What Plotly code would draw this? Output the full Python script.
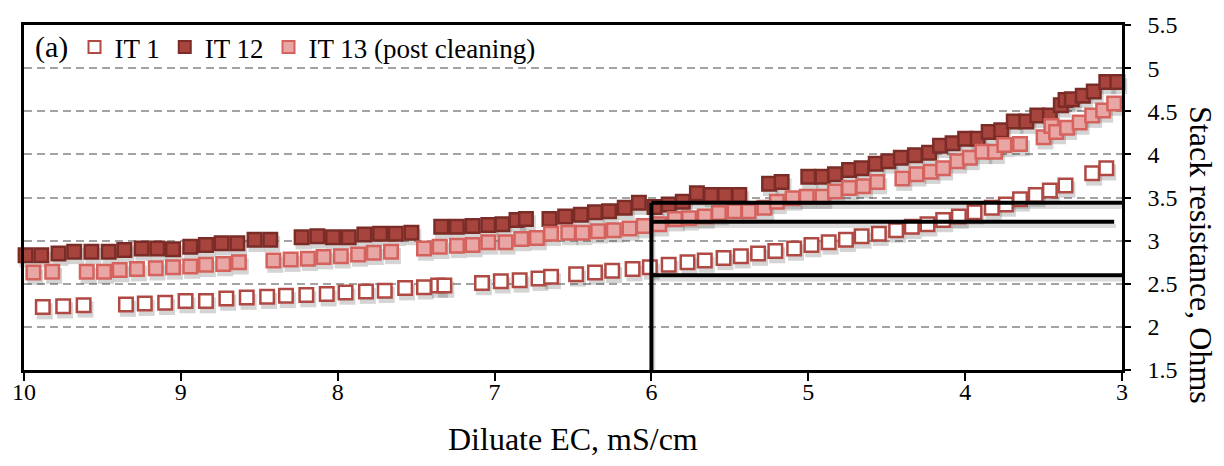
import plotly.graph_objects as go

# ---- data ----
it1_ec = [9.88, 9.75, 9.62, 9.35, 9.23, 9.10, 8.97, 8.84, 8.71, 8.58,
          8.45, 8.33, 8.20, 8.07, 7.95, 7.82, 7.70, 7.57, 7.45, 7.36,
          7.32, 7.08, 6.96, 6.84, 6.72, 6.64, 6.48, 6.36, 6.25, 6.12,
          6.01, 5.89, 5.77, 5.66, 5.54, 5.43, 5.32, 5.21, 5.09, 4.98,
          4.87, 4.76, 4.66, 4.55, 4.44, 4.34, 4.24, 4.14, 4.04, 3.94,
          3.83, 3.74, 3.65, 3.55, 3.46, 3.36, 3.19, 3.10]
it1_res = [2.23, 2.24, 2.25, 2.26, 2.27, 2.28, 2.30, 2.30, 2.33, 2.34,
           2.35, 2.36, 2.37, 2.38, 2.40, 2.41, 2.42, 2.45, 2.46, 2.48,
           2.48, 2.51, 2.53, 2.54, 2.56, 2.58, 2.61, 2.63, 2.65, 2.67,
           2.69, 2.72, 2.75, 2.77, 2.80, 2.82, 2.85, 2.88, 2.91, 2.95,
           2.98, 3.01, 3.05, 3.08, 3.12, 3.16, 3.19, 3.24, 3.28, 3.33,
           3.38, 3.42, 3.48, 3.53, 3.58, 3.64, 3.78, 3.84]

it12_ec = [9.99, 9.89, 9.78, 9.68, 9.57, 9.46, 9.36, 9.25, 9.15, 9.05,
           8.94, 8.84, 8.74, 8.64, 8.53, 8.43, 8.23, 8.13, 8.03,
           7.93, 7.83, 7.73, 7.63, 7.53, 7.34, 7.24, 7.14, 7.04,
           6.95, 6.86, 6.80, 6.65, 6.55, 6.45, 6.36, 6.27, 6.17, 6.08,
           5.98, 5.89, 5.80, 5.71, 5.62, 5.53, 5.44, 5.25, 5.17, 5.00,
           4.91, 4.83, 4.74, 4.66, 4.57, 4.49, 4.41, 4.32, 4.23, 4.16,
           4.08, 4.00, 3.92, 3.85, 3.77, 3.69, 3.61, 3.54, 3.46, 3.39,
           3.36, 3.32, 3.25, 3.18, 3.10, 3.03]
it12_res = [2.83, 2.83, 2.85, 2.87, 2.87, 2.87, 2.89, 2.91, 2.91, 2.90,
            2.93, 2.95, 2.97, 2.97, 3.01, 3.01, 3.04, 3.05, 3.04,
            3.04, 3.07, 3.08, 3.08, 3.09, 3.16, 3.16, 3.17, 3.18,
            3.19, 3.24, 3.25, 3.25, 3.28, 3.30, 3.33, 3.34, 3.38, 3.44,
            3.39, 3.42, 3.45, 3.55, 3.53, 3.53, 3.53, 3.66, 3.68, 3.74,
            3.74, 3.77, 3.82, 3.84, 3.89, 3.92, 3.96, 3.99, 4.02, 4.10,
            4.13, 4.18, 4.18, 4.26, 4.28, 4.38, 4.38, 4.45, 4.45, 4.57,
            4.63, 4.64, 4.68, 4.73, 4.84, 4.84]

it13_ec = [9.94, 9.82, 9.60, 9.49, 9.39, 9.28, 9.16, 9.05, 8.94, 8.84,
           8.73, 8.63, 8.41, 8.30, 8.19, 8.09, 7.98, 7.87, 7.77, 7.66,
           7.45, 7.35, 7.24, 7.14, 7.04, 6.93, 6.83, 6.73, 6.64, 6.53,
           6.44, 6.34, 6.24, 6.14, 6.05, 5.95, 5.85, 5.76, 5.66, 5.57,
           5.47, 5.38, 5.28, 5.20, 5.10, 5.01, 4.91, 4.83, 4.74, 4.65,
           4.56, 4.40, 4.31, 4.22, 4.14, 4.05, 3.97, 3.89, 3.81, 3.75,
           3.65, 3.50, 3.45, 3.42, 3.35, 3.27, 3.19, 3.12, 3.05]
it13_res = [2.63, 2.64, 2.64, 2.64, 2.66, 2.67, 2.68, 2.69, 2.70, 2.72,
            2.73, 2.75, 2.77, 2.78, 2.79, 2.81, 2.82, 2.84, 2.86, 2.87,
            2.91, 2.93, 2.94, 2.95, 2.98, 2.98, 3.02, 3.03, 3.08, 3.09,
            3.09, 3.11, 3.12, 3.14, 3.17, 3.19, 3.25, 3.26, 3.28, 3.32,
            3.34, 3.34, 3.38, 3.45, 3.49, 3.51, 3.51, 3.57, 3.61, 3.63,
            3.68, 3.72, 3.77, 3.80, 3.84, 3.92, 3.96, 4.03, 4.03, 4.11,
            4.12, 4.20, 4.33, 4.26, 4.31, 4.37, 4.45, 4.51, 4.59]

series_names = ["IT 1", "IT 12", "IT 13 (post cleaning)"]

# reference guide lines: EC threshold and resistance levels
guide_ec = 6.0
guide_levels = [3.44, 3.22, 2.60]
guide_ends = [3.0, 3.05, 3.0]

x_ticks = [10, 9, 8, 7, 6, 5, 4, 3]
x_range = [10, 3]
y_range = [1.5, 5.5]

FONT = "Liberation Serif"

# style
fills = ["white", "#A8443E", "#E8A6A4"]
edges = ["#B04843", "#7B2C27", "#D5625D"]
all_ec = [it1_ec, it12_ec, it13_ec]
all_res = [it1_res, it12_res, it13_res]

# drop-shadow offset, applied as an axis-range shift of a hidden overlay axis
shadow_dx = 0.012
shadow_dy = 0.05

fig = go.Figure()

# invisible trace to anchor the visible frame axes
fig.add_trace(go.Scatter(x=[x_range[0]], y=[y_range[0]], mode="markers",
                         marker=dict(opacity=0), showlegend=False,
                         hoverinfo="skip"))

# soft drop shadows (x2/y2)
for ec, res in zip(all_ec, all_res):
    fig.add_trace(go.Scatter(
        x=ec, y=res, mode="markers", xaxis="x2", yaxis="y2",
        showlegend=False, hoverinfo="skip", cliponaxis=False,
        marker=dict(symbol="square", size=16,
                    color="rgba(60,60,60,0.22)", line=dict(width=0))))
fig.add_trace(go.Scatter(
    x=[guide_ec, guide_ec], y=[y_range[0], guide_levels[0]], mode="lines",
    xaxis="x2", yaxis="y2", line=dict(color="rgba(60,60,60,0.18)", width=4),
    showlegend=False, hoverinfo="skip"))
for lvl, end in zip(guide_levels, guide_ends):
    fig.add_trace(go.Scatter(
        x=[guide_ec, end], y=[lvl, lvl], mode="lines",
        xaxis="x2", yaxis="y2", line=dict(color="rgba(60,60,60,0.18)", width=4),
        showlegend=False, hoverinfo="skip"))

# data markers (x3/y3, same scales as the visible axes)
for name, ec, res, fc, ec_col in zip(series_names, all_ec, all_res, fills, edges):
    fig.add_trace(go.Scatter(
        x=ec, y=res, mode="markers", name=name, xaxis="x3", yaxis="y3",
        cliponaxis=False,
        marker=dict(symbol="square", size=13.5, color=fc,
                    line=dict(color=ec_col, width=2.5))))

# guide lines (drawn above markers)
fig.add_trace(go.Scatter(
    x=[guide_ec, guide_ec], y=[y_range[0], guide_levels[0]], mode="lines",
    xaxis="x3", yaxis="y3",
    line=dict(color="black", width=4), showlegend=False, hoverinfo="skip",
    cliponaxis=False))
for lvl, end in zip(guide_levels, guide_ends):
    fig.add_trace(go.Scatter(
        x=[guide_ec, end], y=[lvl, lvl], mode="lines",
        xaxis="x3", yaxis="y3",
        line=dict(color="black", width=4), showlegend=False, hoverinfo="skip",
        cliponaxis=False))

hidden = dict(visible=False, showgrid=False, zeroline=False)

fig.update_layout(
    width=1224, height=466,
    margin=dict(l=21, r=102, t=19, b=96),
    paper_bgcolor="white", plot_bgcolor="white",
    font=dict(family=FONT, color="black", size=24),
    showlegend=True,
    legend=dict(orientation="h", x=0.046, xanchor="left", y=0.935,
                yanchor="middle", bgcolor="rgba(0,0,0,0)",
                font=dict(family=FONT, size=27, color="black"),
                itemsizing="constant", traceorder="normal"),
    xaxis=dict(range=x_range, tickvals=x_ticks, ticks="outside",
               ticklen=8, tickwidth=2, tickcolor="black",
               showline=True, linecolor="black", linewidth=3, mirror=True,
               showgrid=False, zeroline=False, ticklabelstandoff=-10,
               tickfont=dict(family=FONT, size=24)),
    yaxis=dict(range=y_range, dtick=0.5, side="right", ticks="outside",
               ticklen=6, tickwidth=2, tickcolor="black",
               showline=True, linecolor="black", linewidth=2.5, mirror=True,
               showgrid=True, gridcolor="#A3A3A3", gridwidth=2,
               griddash="8px,5px", zeroline=False, ticklabelstandoff=12,
               tickfont=dict(family=FONT, size=24)),
    xaxis2=dict(overlaying="x",
                range=[x_range[0] + shadow_dx, x_range[1] + shadow_dx], **hidden),
    yaxis2=dict(overlaying="y",
                range=[y_range[0] + shadow_dy, y_range[1] + shadow_dy], **hidden),
    xaxis3=dict(overlaying="x", range=x_range, **hidden),
    yaxis3=dict(overlaying="y", range=y_range, **hidden),
    annotations=[
        dict(text="(a)", xref="paper", yref="paper", x=0.008, y=0.935,
             xanchor="left", yanchor="middle", showarrow=False,
             font=dict(family=FONT, size=30)),
        dict(text="Diluate EC, mS/cm", xref="paper", yref="paper",
             x=0.5, y=-0.2, xanchor="center", yanchor="middle",
             showarrow=False, font=dict(family=FONT, size=32)),
        dict(text="Stack resistance, Ohms", xref="paper", yref="paper",
             x=1.072, y=0.333, xanchor="center", yanchor="middle",
             textangle=90, showarrow=False, font=dict(family=FONT, size=32)),
    ],
)

fig.write_html("out.html")
